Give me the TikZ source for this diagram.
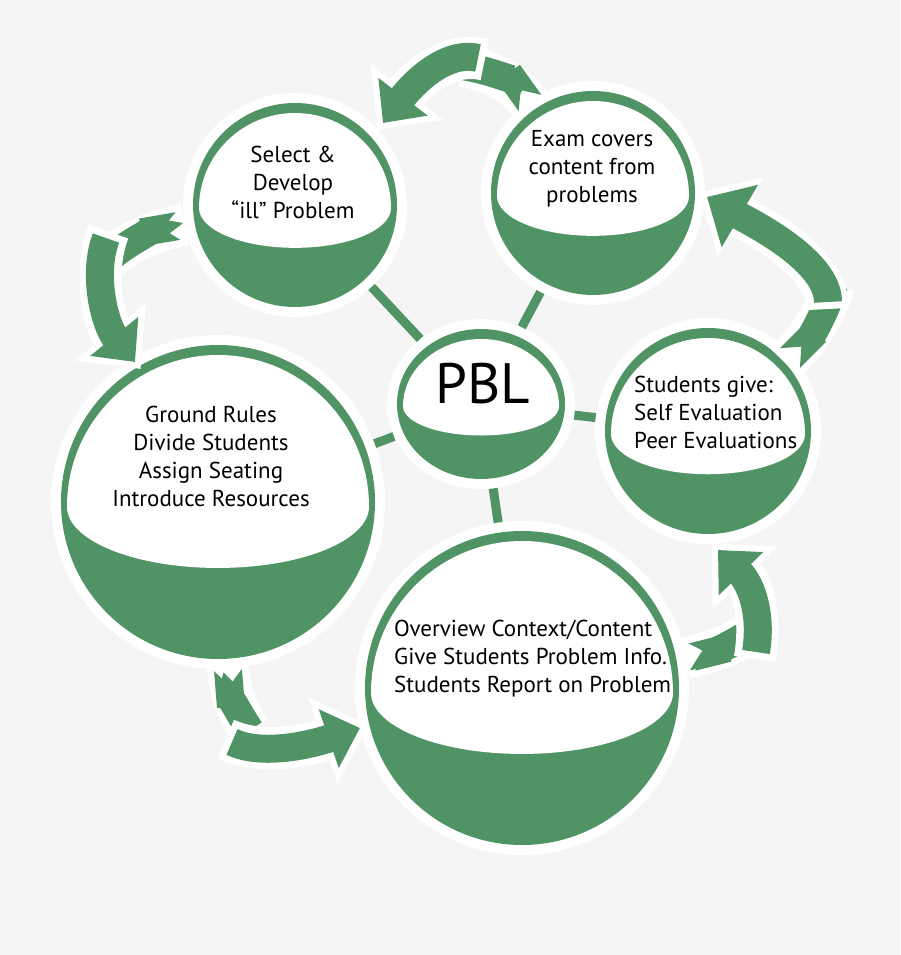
\documentclass[tikz,border=0pt]{standalone}
\usepackage{fontspec}
\setmainfont{PT Sans}
\usetikzlibrary{arrows.meta,shapes.geometric}

\definecolor{pblgreen}{RGB}{80,148,102}
\definecolor{bggray}{RGB}{245,245,245}

\tikzset{
  bubble/.style 2 args={ellipse, fill=white, inner sep=0pt,
    minimum width=2*#1+20pt, minimum height=2*#2+20pt,
    path picture={
      \fill[pblgreen] (path picture bounding box.center) ellipse [x radius=#1, y radius=#2];
      \fill[white] ([shift={(#1-6,0.03*#2)}]path picture bounding box.center)
        arc [start angle=0, end angle=-180, x radius=#1-6, y radius=1.03*#2-10]
        arc [start angle=180, end angle=0, x radius=#1-6, y radius=0.39*#2] -- cycle;
    }},
  txt/.style={font=\fontsize{23}{28}\selectfont, align=center, inner sep=0pt},
  spoke/.style={pblgreen, line width=9pt},
  tailhalo/.style={white, line width=42pt, shorten <=-7pt},
  tailband/.style={pblgreen, line width=28pt, {Triangle Cap[reversed,length=16pt]}-},
  headhalo/.style={white, line width=42pt, shorten <=-7pt, shorten >=-9pt, -{Triangle[width=88pt,length=48pt]}},
  headband/.style={pblgreen, line width=28pt, -{Triangle[width=60pt,length=33pt]}}
}

\begin{document}
\begin{tikzpicture}[x=1pt, y=-1pt]
    % Background
    \fill[bggray] (0,0) rectangle (900,955);
    \useasboundingbox (0,0) rectangle (900,955);

    % Bubbles
    \node[bubble={102}{102}] (sel) at (295,205) {};
    \node[bubble={102}{102}] (exam) at (593,193) {};
    \node[bubble={84}{75}] (pbl) at (481,404) {};
    \node[bubble={157}{157}] (ground) at (218,502) {};
    \node[bubble={157}{157}] (over) at (522,688) {};
    \node[bubble={103}{103}] (stud) at (708,431) {};

    % Spokes to the hub
    \draw[spoke] (pbl) -- (sel);
    \draw[spoke] (pbl) -- (exam);
    \draw[spoke] (pbl) -- (stud);
    \draw[spoke] (pbl) -- (over);
    \draw[spoke] (pbl) -- (ground);

    % Texts
    \node[font=\fontsize{57}{60}\selectfont, anchor=base, inner sep=0pt] (pbl-t) at ([shift={(2,-1)}]pbl) {PBL};
    \node[txt] (sel-t) at ([shift={(-2,-23)}]sel) {Select \&\\Develop\\“ill” Problem};
    \node[txt] (exam-t) at ([shift={(-1,-24)}]exam) {Exam covers\\content from\\problems};
    \node[txt] (ground-t) at ([shift={(-7,-46)}]ground) {Ground Rules\\Divide Students\\Assign Seating\\Introduce Resources};
    \node[txt, anchor=west, align=left] (over-t) at ([shift={(-128,-29)}]over) {Overview Context/Content\\Give Students Problem Info.\\Students Report on Problem};
    \node[txt, anchor=west, align=left] (stud-t) at ([shift={(-74,-19)}]stud) {Students give:\\Self Evaluation\\Peer Evaluations};

    % Cycle arrows (tail piece, then head piece)
    \coordinate (a1-tail) at (530,103);
    \coordinate (a1-join) at (462,66);
    \coordinate (a1-start) at (478,58);
    \coordinate (a1-tip) at (383,123);
    \draw[tailhalo] (a1-tail) .. controls (515,82) and (490,70) .. (a1-join);
    \draw[tailband] (a1-tail) .. controls (515,82) and (490,70) .. (a1-join);
    \draw[headhalo] (a1-start) .. controls (445,50) and (412,85) .. (a1-tip);
    \draw[headband] (a1-start) .. controls (445,50) and (412,85) .. (a1-tip);

    \coordinate (a2-tail) at (178,226);
    \coordinate (a2-join) at (110,258);
    \coordinate (a2-start) at (106,238);
    \coordinate (a2-tip) at (135,362);
    \draw[tailhalo] (a2-tail) .. controls (155,230) and (128,242) .. (a2-join);
    \draw[tailband] (a2-tail) .. controls (155,230) and (128,242) .. (a2-join);
    \draw[headhalo] (a2-start) .. controls (92,275) and (105,325) .. (a2-tip);
    \draw[headband] (a2-start) .. controls (92,275) and (105,325) .. (a2-tip);

    \coordinate (a3-tail) at (228,670);
    \coordinate (a3-join) at (250,730);
    \coordinate (a3-start) at (232,742);
    \coordinate (a3-tip) at (360,728);
    \draw[tailhalo] (a3-tail) .. controls (230,695) and (238,712) .. (a3-join);
    \draw[tailband] (a3-tail) .. controls (230,695) and (238,712) .. (a3-join);
    \draw[headhalo] (a3-start) .. controls (262,756) and (310,745) .. (a3-tip);
    \draw[headband] (a3-start) .. controls (262,756) and (310,745) .. (a3-tip);

    \coordinate (a4-tail) at (692,657);
    \coordinate (a4-join) at (750,632);
    \coordinate (a4-start) at (756,652);
    \coordinate (a4-tip) at (718,550);
    \draw[tailhalo] (a4-tail) .. controls (712,652) and (732,645) .. (a4-join);
    \draw[tailband] (a4-tail) .. controls (712,652) and (732,645) .. (a4-join);
    \draw[headhalo] (a4-start) .. controls (762,615) and (752,585) .. (a4-tip);
    \draw[headband] (a4-start) .. controls (762,615) and (752,585) .. (a4-tip);

    \coordinate (a5-tail) at (790,358);
    \coordinate (a5-join) at (834,285);
    \coordinate (a5-start) at (828,302);
    \coordinate (a5-tip) at (707,197);
    \draw[tailhalo] (a5-tail) .. controls (810,338) and (826,312) .. (a5-join);
    \draw[tailband] (a5-tail) .. controls (810,338) and (826,312) .. (a5-join);
    \draw[headhalo] (a5-start) .. controls (828,260) and (750,222) .. (a5-tip);
    \draw[headband, -{Triangle[width=70pt,length=38pt]}] (a5-start) .. controls (828,260) and (750,222) .. (a5-tip);
\end{tikzpicture}
\end{document}
